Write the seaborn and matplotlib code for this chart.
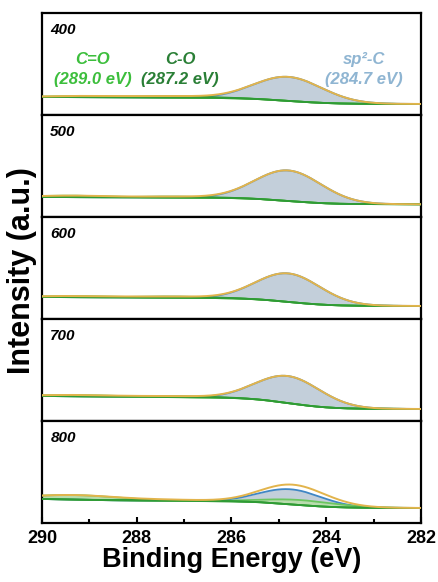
import numpy as np
import pandas as pd
import matplotlib
matplotlib.use("Agg")
import matplotlib.pyplot as plt
import seaborn as sns

# ---------------- data ----------------
temperatures = ["400", "500", "600", "700", "800"]
# background level at 290 eV (left) and 282 eV (right), arbitrary units (panel height = 102)
bg_left = [18.0, 20.0, 22.0, 25.0, 24.0]
bg_right = [11.0, 12.7, 13.0, 12.0, 15.0]
# sp2-C component (284.7-284.8 eV)
sp2_center = [284.8, 284.8, 284.8, 284.8, 284.75]
sp2_height = [24.0, 30.5, 28.5, 27.0, 15.0]
sp2_fwhm = [1.7, 1.65, 1.6, 1.6, 1.55]
# C-O component (287.2 eV)
co_center = [287.2, 287.2, 287.2, 287.2, 287.2]
co_height = [1.5, 1.0, 1.2, 1.0, 1.0]
co_fwhm = [1.8, 1.8, 1.8, 1.8, 1.8]
# C=O component (289.0 eV)
cdo_center = [289.0, 289.3, 289.2, 289.2, 289.3]
cdo_height = [1.2, 1.5, 1.2, 1.3, 4.5]
cdo_fwhm = [1.8, 1.8, 1.8, 1.8, 2.2]
# additional broad green component under the main peak (visible in the 800 panel)
ext_center = [284.6, 284.6, 284.6, 284.6, 284.5]
ext_height = [0.0, 0.0, 0.0, 0.0, 5.0]
ext_fwhm = [1.6, 1.6, 1.6, 1.6, 1.8]

xticks = [290, 288, 286, 284, 282]
peak_labels = ["C=O", "C-O", "sp²-C"]
peak_energies = ["(289.0 eV)", "(287.2 eV)", "(284.7 eV)"]
label_x = [288.93, 287.08, 283.2]

# ---------------- style ----------------
sns.set_theme(style="ticks")
plt.rcParams["font.family"] = ["Liberation Sans", "DejaVu Sans"]
plt.rcParams["text.color"] = "black"
plt.rcParams["axes.labelcolor"] = "black"
plt.rcParams["xtick.color"] = "black"
plt.rcParams["xtick.labelcolor"] = "black"

C_ENV = "#e2b44c"
C_SP2_LINE = "#3f86c4"
C_SP2_FILL = "#c3cfda"
C_CO = "#2f9b35"
C_CDO = "#6cc660"
C_CDO_FILL = "#b9dcae"
LBL_COLORS = ["#3cbe3c", "#2a7f36", "#8fb5d2"]

x = np.linspace(282, 290, 600)


def gauss(xx, c, h, fw):
    s = fw / 2.3548
    return h * np.exp(-0.5 * ((xx - c) / s) ** 2)


fig = plt.figure(figsize=(4.38, 5.82), dpi=100)
axes = fig.subplots(5, 1, sharex=True, gridspec_kw=dict(hspace=0))
fig.subplots_adjust(left=0.0959, right=0.961, top=0.9777, bottom=0.1014)

for i, ax in enumerate(axes):
    sp2 = gauss(x, sp2_center[i], sp2_height[i], sp2_fwhm[i])
    co = gauss(x, co_center[i], co_height[i], co_fwhm[i])
    cdo = gauss(x, cdo_center[i], cdo_height[i], cdo_fwhm[i])
    ext = gauss(x, ext_center[i], ext_height[i], ext_fwhm[i])
    tot = sp2 + co + cdo + ext
    # Shirley-type background: cumulative integral from the right (282 eV)
    cum = np.cumsum(tot)
    frac = cum / cum[-1]
    lin = (x - 282) / 8.0
    bg = bg_right[i] + (bg_left[i] - bg_right[i]) * (0.1 * lin + 0.9 * frac)

    df = pd.DataFrame({"x": x, "bg": bg, "sp2": bg + sp2, "co": bg + co,
                       "cdo": bg + cdo, "ext": bg + ext, "env": bg + tot})

    ax.fill_between(df["x"], df["bg"], df["sp2"], color=C_SP2_FILL, lw=0, zorder=1)
    ax.fill_between(df["x"], df["bg"], df["cdo"], color=C_CDO_FILL, lw=0, zorder=2)
    ax.fill_between(df["x"], df["bg"], df["ext"], color=C_CDO_FILL, lw=0, zorder=2)
    ax.fill_between(df["x"], df["bg"], df["co"], color="#8fcf86", lw=0, zorder=2)
    sns.lineplot(data=df, x="x", y="sp2", ax=ax, color=C_SP2_LINE, lw=1.3, zorder=3)
    sns.lineplot(data=df, x="x", y="cdo", ax=ax, color=C_CDO, lw=1.3, zorder=4)
    sns.lineplot(data=df, x="x", y="ext", ax=ax, color=C_CDO, lw=1.3, zorder=4)
    sns.lineplot(data=df, x="x", y="co", ax=ax, color=C_CO, lw=1.3, zorder=4)
    sns.lineplot(data=df, x="x", y="bg", ax=ax, color=C_CO, lw=1.3, zorder=4)
    sns.lineplot(data=df, x="x", y="env", ax=ax, color=C_ENV, lw=1.4, zorder=5)

    ax.set_xlim(290, 282)
    ax.set_ylim(0, 102)
    ax.set_yticks([])
    ax.set_ylabel("")
    ax.set_xlabel("")
    for sp in ax.spines.values():
        sp.set_visible(True)
        sp.set_linewidth(1.6)
        sp.set_color("black")
    ax.text(0.022, 0.83, temperatures[i], transform=ax.transAxes,
            fontsize=11, fontweight="bold", fontstyle="italic", color="black",
            va="center", ha="left")
    if i < 4:
        ax.tick_params(axis="x", which="both", bottom=False, labelbottom=False)

# peak annotations in top panel
for lx, lbl, en, col in zip(label_x, peak_labels, peak_energies, LBL_COLORS):
    axes[0].text(lx, 55, lbl, color=col, fontsize=12, fontweight="bold",
                 fontstyle="italic", ha="center", va="center")
    axes[0].text(lx, 35, en, color=col, fontsize=12, fontweight="bold",
                 fontstyle="italic", ha="center", va="center")

axb = axes[-1]
axb.set_xticks(xticks)
axb.set_xticks([289, 287, 285, 283], minor=True)
axb.set_xticklabels([str(t) for t in xticks], fontsize=13, fontweight="bold",
                    color="black")
axb.tick_params(axis="x", which="major", direction="in", length=4, width=1.5, pad=5)
axb.tick_params(axis="x", which="minor", direction="in", length=3, width=1.5)
axb.set_xlabel("Binding Energy (eV)", fontsize=19.5, fontweight="bold",
               labelpad=0, color="black")

fig.text(0.05, 0.535, "Intensity (a.u.)", rotation=90, fontsize=22,
         fontweight="bold", ha="center", va="center", color="black")

fig.savefig("out.png", dpi=100)
